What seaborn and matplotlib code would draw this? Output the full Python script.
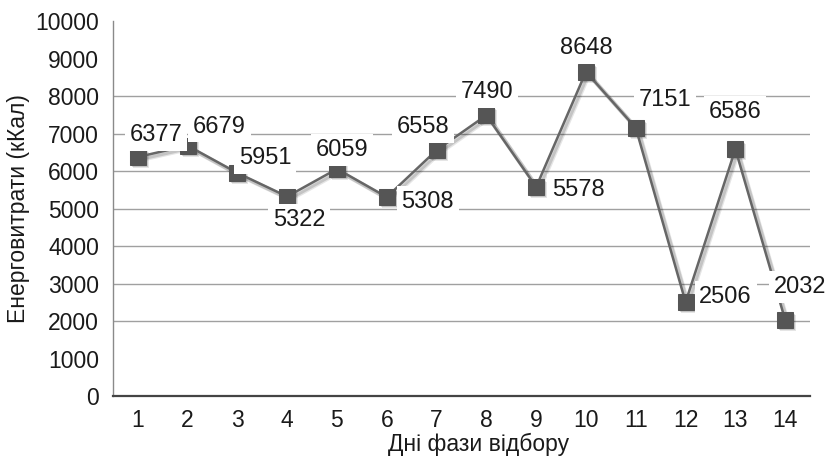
import matplotlib
matplotlib.use("Agg")
import matplotlib.pyplot as plt
import matplotlib.transforms as mtransforms
import pandas as pd
import seaborn as sns

# Daily energy expenditure over the selection phase
days = [1, 2, 3, 4, 5, 6, 7, 8, 9, 10, 11, 12, 13, 14]
energy = [6377, 6679, 5951, 5322, 6059, 5308, 6558, 7490, 5578, 8648, 7151, 2506, 6586, 2032]
y_ticks = [0, 1000, 2000, 3000, 4000, 5000, 6000, 7000, 8000, 9000, 10000]
grid_levels = [2000, 3000, 4000, 5000, 6000, 7000, 8000]

x_label = "Дні фази відбору"
y_label = "Енерговитрати (кКал)"

# label offsets (pixels) relative to each point
label_offsets = [(18, 22), (32, 19), (28, 15), (12, -23), (5, 19), (41, -5),
                 (-14, 23), (1, 23), (42, -3), (0, 24), (29, 28), (40, 5),
                 (0, 37), (15, 33)]

df = pd.DataFrame({"day": days, "energy": energy})

sns.set_theme(style="white")
plt.rcParams["font.family"] = ["Liberation Sans", "DejaVu Sans"]

fig = plt.figure(figsize=(8.36, 4.58), dpi=100)
ax = fig.add_axes([0.135, 0.135, 0.834, 0.819])

for lvl in grid_levels:
    ax.axhline(lvl, color="#a0a0a0", lw=1.0, zorder=1)

# soft drop shadow under the series
for off, alpha in [(3.0, 0.10), (2.0, 0.14)]:
    shadow_tr = mtransforms.offset_copy(ax.transData, fig=fig, x=off, y=-off, units="dots")
    sns.lineplot(data=df, x="day", y="energy", ax=ax, color="#000000", lw=3.0, alpha=alpha,
                 marker="s", markersize=12, markeredgewidth=0, zorder=2,
                 transform=shadow_tr)

sns.lineplot(data=df, x="day", y="energy", ax=ax, color="#666666", lw=1.8,
             marker="s", markersize=11, markerfacecolor="#555555",
             markeredgecolor="#555555", zorder=3)

for d, v, (dx, dy) in zip(days, energy, label_offsets):
    ax.annotate(str(v), xy=(d, v), xytext=(dx, dy), textcoords="offset pixels",
                ha="center", va="center", fontsize=17, color="#1a1a1a", zorder=5,
                bbox=dict(boxstyle="square,pad=0.2", fc="white", ec="none"))

ax.set_xlim(0.5, 14.5)
ax.set_ylim(0, 10000)
ax.set_xticks(days)
ax.set_yticks(y_ticks)
ax.tick_params(axis="both", length=0, labelsize=16.5, labelcolor="#1a1a1a")
ax.tick_params(axis="x", pad=9)
ax.tick_params(axis="y", pad=10)

ax.set_xlabel(x_label, fontsize=16.5, color="#1a1a1a", labelpad=0)
ax.xaxis.set_label_coords(0.524, -0.098)
ax.set_ylabel(y_label, fontsize=16.5, color="#1a1a1a", labelpad=4)

for s in ["top", "right"]:
    ax.spines[s].set_visible(False)
ax.spines["left"].set_color("#8a8a8a")
ax.spines["left"].set_linewidth(1.0)
ax.spines["bottom"].set_color("#444444")
ax.spines["bottom"].set_linewidth(1.6)

fig.savefig("out.png", dpi=100, facecolor="white")
